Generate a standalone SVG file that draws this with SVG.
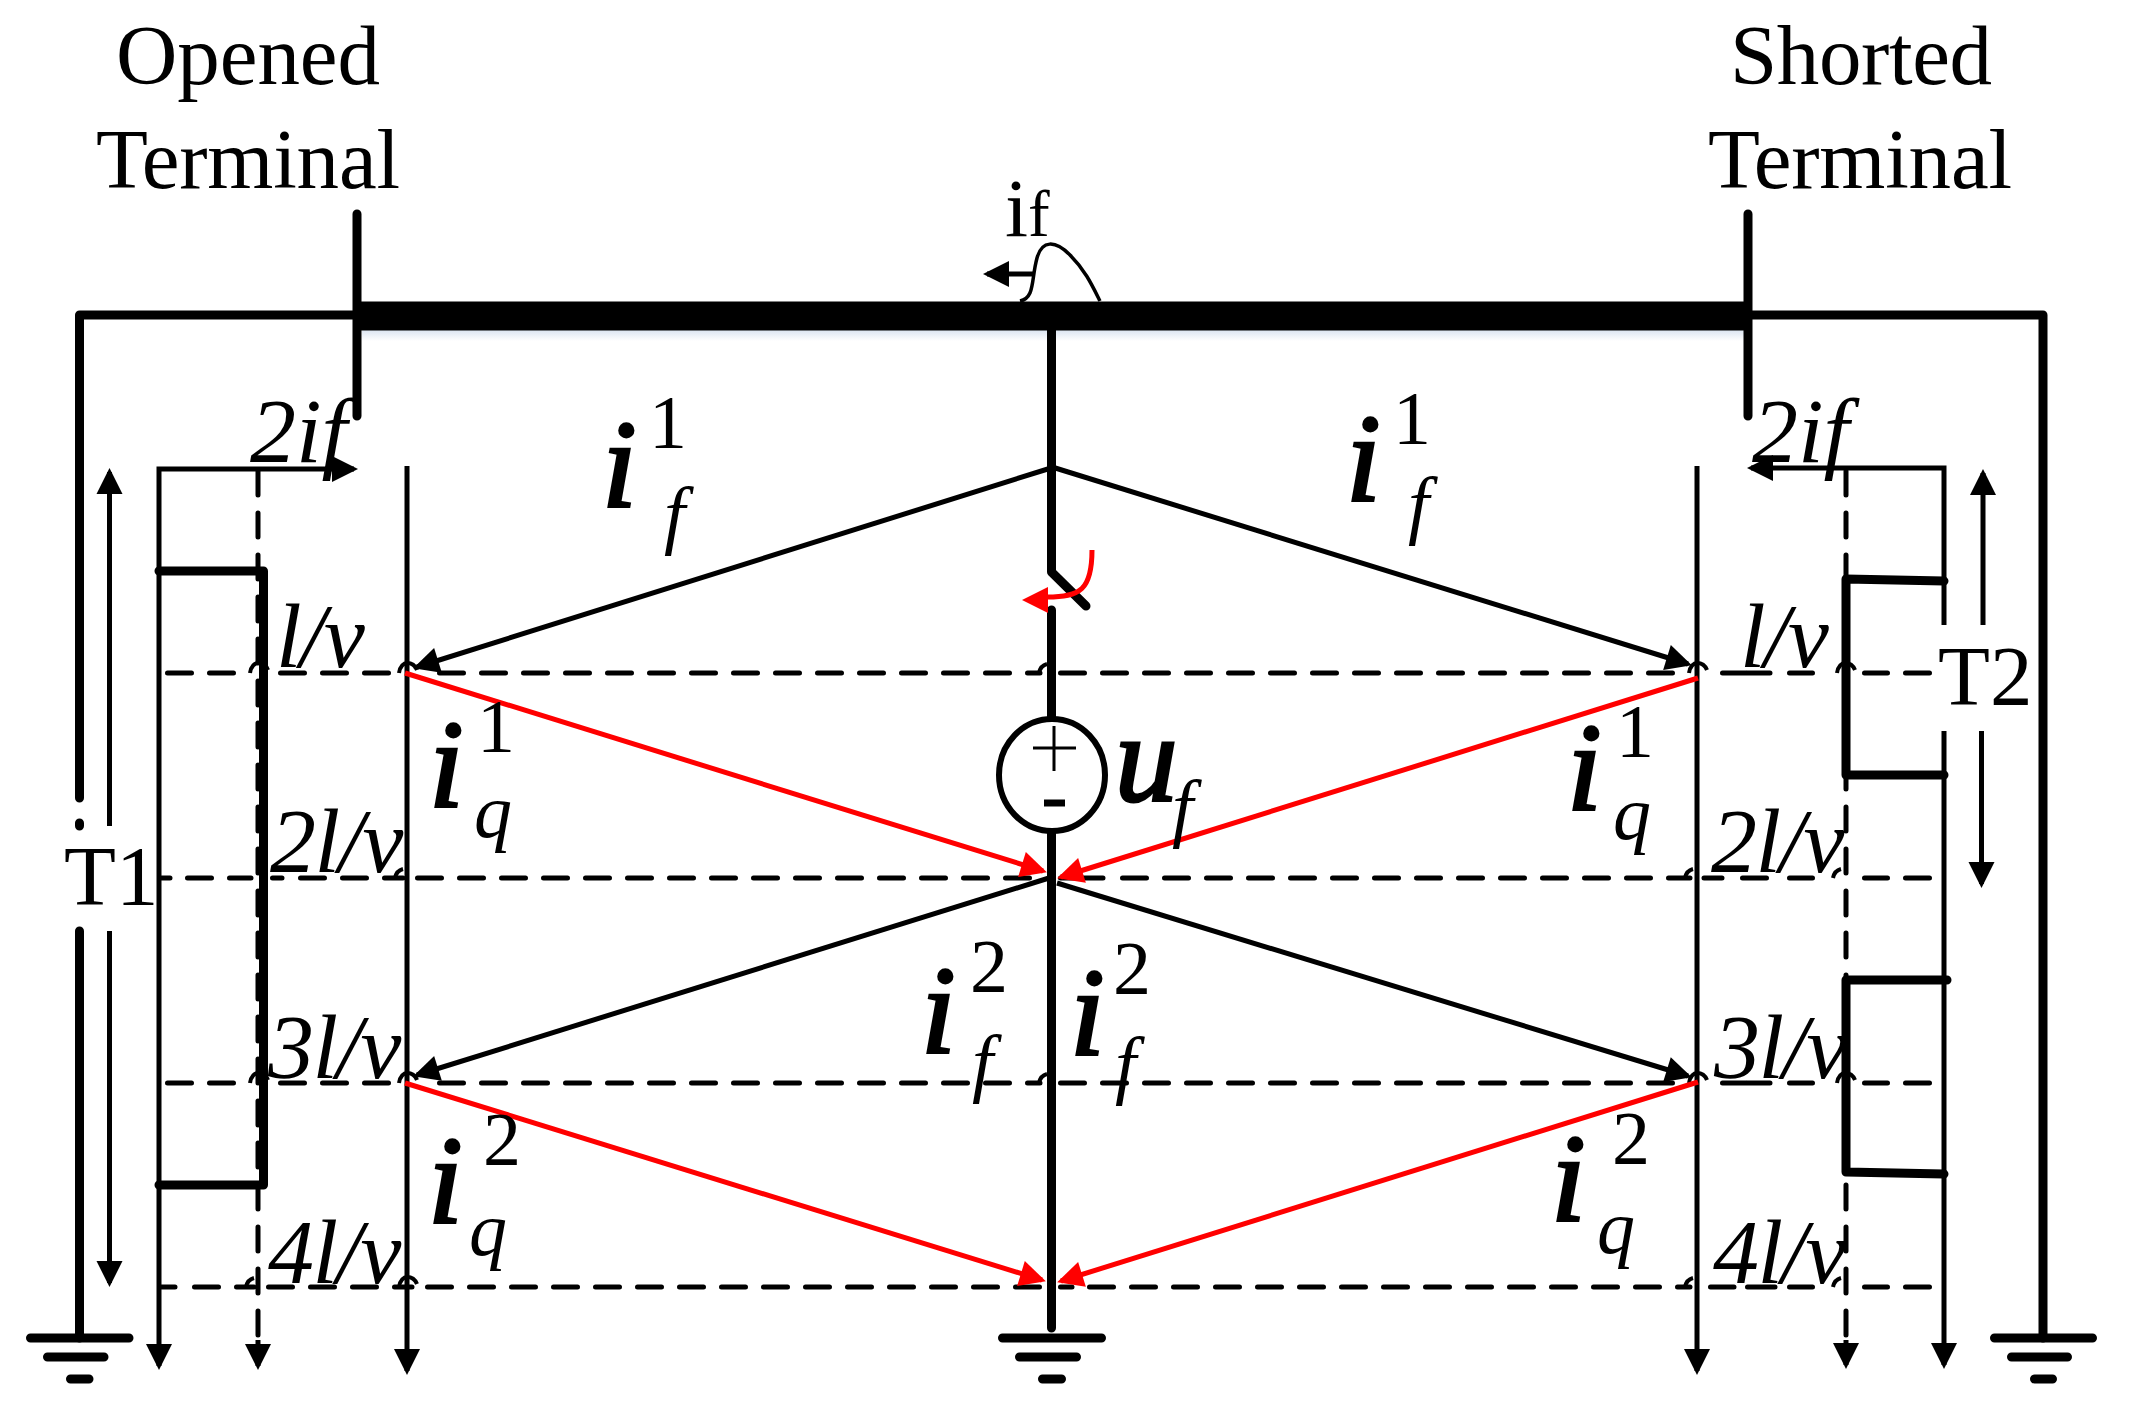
<svg xmlns="http://www.w3.org/2000/svg" width="2136" height="1418" viewBox="0 0 2136 1418">
<style>
text{font-family:"Liberation Serif","Times New Roman",serif;fill:#000}
.lab{font-size:85px}
.t{font-size:92px;font-style:italic}
.tl{font-size:92px;font-style:italic;letter-spacing:-1.500px}
.bi{font-size:125px;font-style:italic;stroke:#000;stroke-width:3}
.sup{font-size:76px}
.sub{font-size:76px;font-style:italic}
.w{fill:none;stroke:#000;stroke-width:9;stroke-linecap:round;stroke-linejoin:round}
.f{fill:none;stroke:#000;stroke-width:5}
.d{fill:none;stroke:#000;stroke-width:5;stroke-dasharray:24 18;stroke-linecap:round}
.r{fill:none;stroke:#f00;stroke-width:5}
</style>
<defs>
<linearGradient id="sh" x1="0" y1="0" x2="0" y2="1"><stop offset="0" stop-color="#dbe5f1"/><stop offset="1" stop-color="#fff"/></linearGradient>
<marker id="a" markerUnits="userSpaceOnUse" markerWidth="30" markerHeight="30" viewBox="0 0 30 30" refX="24" refY="15" orient="auto-start-reverse"><path d="M2 2L28 15L2 28Z" fill="#000"/></marker>
<marker id="ar" markerUnits="userSpaceOnUse" markerWidth="30" markerHeight="30" viewBox="0 0 30 30" refX="24" refY="15" orient="auto"><path d="M2 2L28 15L2 28Z" fill="#f00"/></marker>
<path id="h" d="M-8 0C-7-7-3-10 0-10C4-10 8-8 10-3" fill="none" stroke="#000" stroke-width="4"/>
<path id="hl" d="M-8 0C-7-5-4-8 0-9" fill="none" stroke="#000" stroke-width="4"/>
</defs>

<g id="connectors">
<rect x="362" y="330" width="1383" height="11" fill="url(#sh)"/>
<path class="w" d="M79.500 798V315H357M79.500 823V826M79.500 931V1338M2043 1338V315H1748" stroke-linecap="butt"/>
<path d="M357 316H1748" stroke="#000" stroke-width="29" fill="none"/>
<path class="w" d="M357 214V416M1748 214V416"/>
<path class="w" d="M30.500 1338H129M47.500 1357H104M70.500 1379H89M1002.500 1338H1101.500M1019.500 1357H1076.500M1042.500 1379H1061.500M1994.500 1338H2092.500M2011.500 1357H2067.500M2034.500 1379H2052.500"/>
<path class="w" d="M1051.500 330V572L1086 606M1051.500 610V722M1051.500 830V1328" stroke-width="8"/>

<!-- T arrows -->
<path class="f" d="M109.500 826V472" marker-end="url(#a)"/>
<path class="f" d="M109.500 931V1283" marker-end="url(#a)"/>
<path class="f" d="M1983 625V473" marker-end="url(#a)"/>
<path class="f" d="M1981.500 731V884" marker-end="url(#a)"/>

<!-- left timelines -->
<path class="f" d="M159 1340V469H354" marker-end="url(#a)"/>
<path class="f" d="M159 1340V1366" marker-end="url(#a)"/>
<path class="d" d="M258 471V1340"/>
<path class="f" d="M258 1340V1366" marker-end="url(#a)"/>
<path class="f" d="M407 466V1371" marker-end="url(#a)"/>
<path class="w" d="M159 571H263.500V1185H159"/>

<!-- right timelines -->
<path class="f" d="M1697 466V1371" marker-end="url(#a)"/>
<path class="d" d="M1846 471V1340"/>
<path class="f" d="M1846 1340V1365" marker-end="url(#a)"/>
<path class="f" d="M1944 625V468H1751" marker-end="url(#a)"/>
<path class="f" d="M1944 731V1365" marker-end="url(#a)"/>
<path class="w" d="M1944 581L1846 579V775H1944M1947 980H1846V1172L1944 1174"/>

<!-- time rows -->
<path class="d" d="M167.500 673H236M280.500 673H392M439.500 673H1040M1060.500 673H1690M1722.500 673H1746M1747 673H1770M1789.500 673H1812.500M1864.500 673H1887.500M1905.500 673H1929.500"/>
<path class="d" d="M161.500 878H170M187.500 878H251M272.500 878H282M300.500 878H403M417.500 878H1035M1060.500 878H1080M1081 878H1103M1122.500 878H1690M1704 878H1722M1742.500 878H1770M1789.500 878H1812.500M1864.500 878H1887.500M1905.500 878H1929.500"/>
<path class="d" d="M167.500 1083H236M280.500 1083H392M439.500 1083H1040M1060.500 1083H1690M1722.500 1083H1746M1747 1083H1770M1789.500 1083H1812.500M1864.500 1083H1887.500M1905.500 1083H1929.500"/>
<path class="d" d="M161.500 1287H175M194.500 1287H254M268.500 1287H412M427.500 1287H1041M1060.500 1287H1072M1089.500 1287H1690M1710.500 1287H1734M1747.500 1287H1770M1771 1287H1775M1789.500 1287H1812.500M1864.500 1287H1887.500M1905.500 1287H1929.500"/>
<use href="#h" x="258" y="673"/><use href="#h" x="258" y="1083"/><use href="#h" x="407" y="673"/><use href="#h" x="407" y="1083"/><use href="#hl" x="1047" y="673"/><use href="#hl" x="1047" y="1083"/><use href="#hl" x="1693" y="878"/><use href="#h" x="1697" y="673"/><use href="#h" x="1697" y="1083"/><use href="#h" x="1845" y="673"/><use href="#h" x="1845" y="1083"/><use href="#h" x="407" y="1287"/><use href="#hl" x="254" y="1287"/><use href="#hl" x="1841" y="1287"/><use href="#hl" x="1693" y="1287"/><use href="#hl" x="1841" y="878"/><use href="#hl" x="403" y="878"/>

<!-- lattice -->
<path class="f" d="M1051 468L417 667" marker-end="url(#a)"/>
<path class="f" d="M1052 467L1688 664" marker-end="url(#a)"/>
<path class="f" d="M1049 878L417 1075" marker-end="url(#a)"/>
<path class="f" d="M1057 883L1688 1076" marker-end="url(#a)"/>
<path class="r" d="M405 673L1043 871" marker-end="url(#ar)"/>
<path class="r" d="M1698 678L1061 877" marker-end="url(#ar)"/>
<path class="r" d="M405 1083L1042 1280" marker-end="url(#ar)"/>
<path class="r" d="M1698 1082L1061 1281" marker-end="url(#ar)"/>

<!-- if pulse -->
<path d="M1020 301C1035 298 1031 280 1037 258C1042 240 1055 240 1070 255C1085 270 1092 285 1100 301" fill="none" stroke="#000" stroke-width="3.500"/>
<path class="f" d="M1033 274H987" stroke-width="4" marker-end="url(#a)"/>
<path class="r" d="M1092 550C1092 590 1080 597 1047 597"/>
<path d="M1022 600L1048 587L1048 613Z" fill="#f00"/>
</g>

<g id="source">
<ellipse cx="1052" cy="775" rx="53" ry="56" fill="#fff" stroke="#000" stroke-width="6"/>
<path d="M1033 748H1076M1054 726V771" stroke="#000" stroke-width="3" fill="none"/>
<path d="M1044 803H1065" stroke="#000" stroke-width="7" fill="none"/>
<text x="1115" y="801" class="bi">u</text>
<text x="1172" y="833" class="sub">f</text>
</g>

<g id="terminal-labels">
<text x="116" y="84" class="lab" textLength="264">Opened</text>
<text x="96" y="188" class="lab" textLength="304">Terminal</text>
<text x="1730" y="84" class="lab" textLength="262">Shorted</text>
<text x="1708" y="188" class="lab" textLength="304">Terminal</text>
<text x="1005" y="236" font-size="83">i<tspan font-size="65">f</tspan></text>
<text x="64" y="905" class="lab">T1</text>
<text x="1938" y="705" class="lab">T2</text>
</g>

<g id="time-labels">
<text x="250" y="462" class="t">2if</text>
<text x="1752" y="462" class="t">2if</text>
<text x="276" y="667" class="tl">l/v</text>
<text x="1740" y="667" class="tl">l/v</text>
<text x="270" y="872" class="tl">2l/v</text>
<text x="1711" y="872" class="tl">2l/v</text>
<text x="268" y="1078" class="tl">3l/v</text>
<text x="1714" y="1078" class="tl">3l/v</text>
<text x="268" y="1283" class="tl">4l/v</text>
<text x="1713" y="1283" class="tl">4l/v</text>
</g>

<g id="current-labels">
<text x="602" y="507" class="bi">i</text><text x="649" y="448" class="sup">1</text><text x="664" y="540" class="sub">f</text>
<text x="1346" y="501" class="bi">i</text><text x="1393" y="444" class="sup">1</text><text x="1408" y="530" class="sub">f</text>
<text x="429" y="807" class="bi">i</text><text x="477" y="752" class="sup">1</text><text x="474" y="837" class="sub">q</text>
<text x="1567" y="810" class="bi">i</text><text x="1616" y="757" class="sup">1</text><text x="1613" y="839" class="sub">q</text>
<text x="921" y="1053" class="bi">i</text><text x="970" y="992" class="sup">2</text><text x="972" y="1088" class="sub">f</text>
<text x="1070" y="1055" class="bi">i</text><text x="1113" y="994" class="sup">2</text><text x="1115" y="1090" class="sub">f</text>
<text x="428" y="1223" class="bi">i</text><text x="483" y="1165" class="sup">2</text><text x="469" y="1255" class="sub">q</text>
<text x="1551" y="1221" class="bi">i</text><text x="1612" y="1164" class="sup">2</text><text x="1597" y="1253" class="sub">q</text>
</g>
</svg>
